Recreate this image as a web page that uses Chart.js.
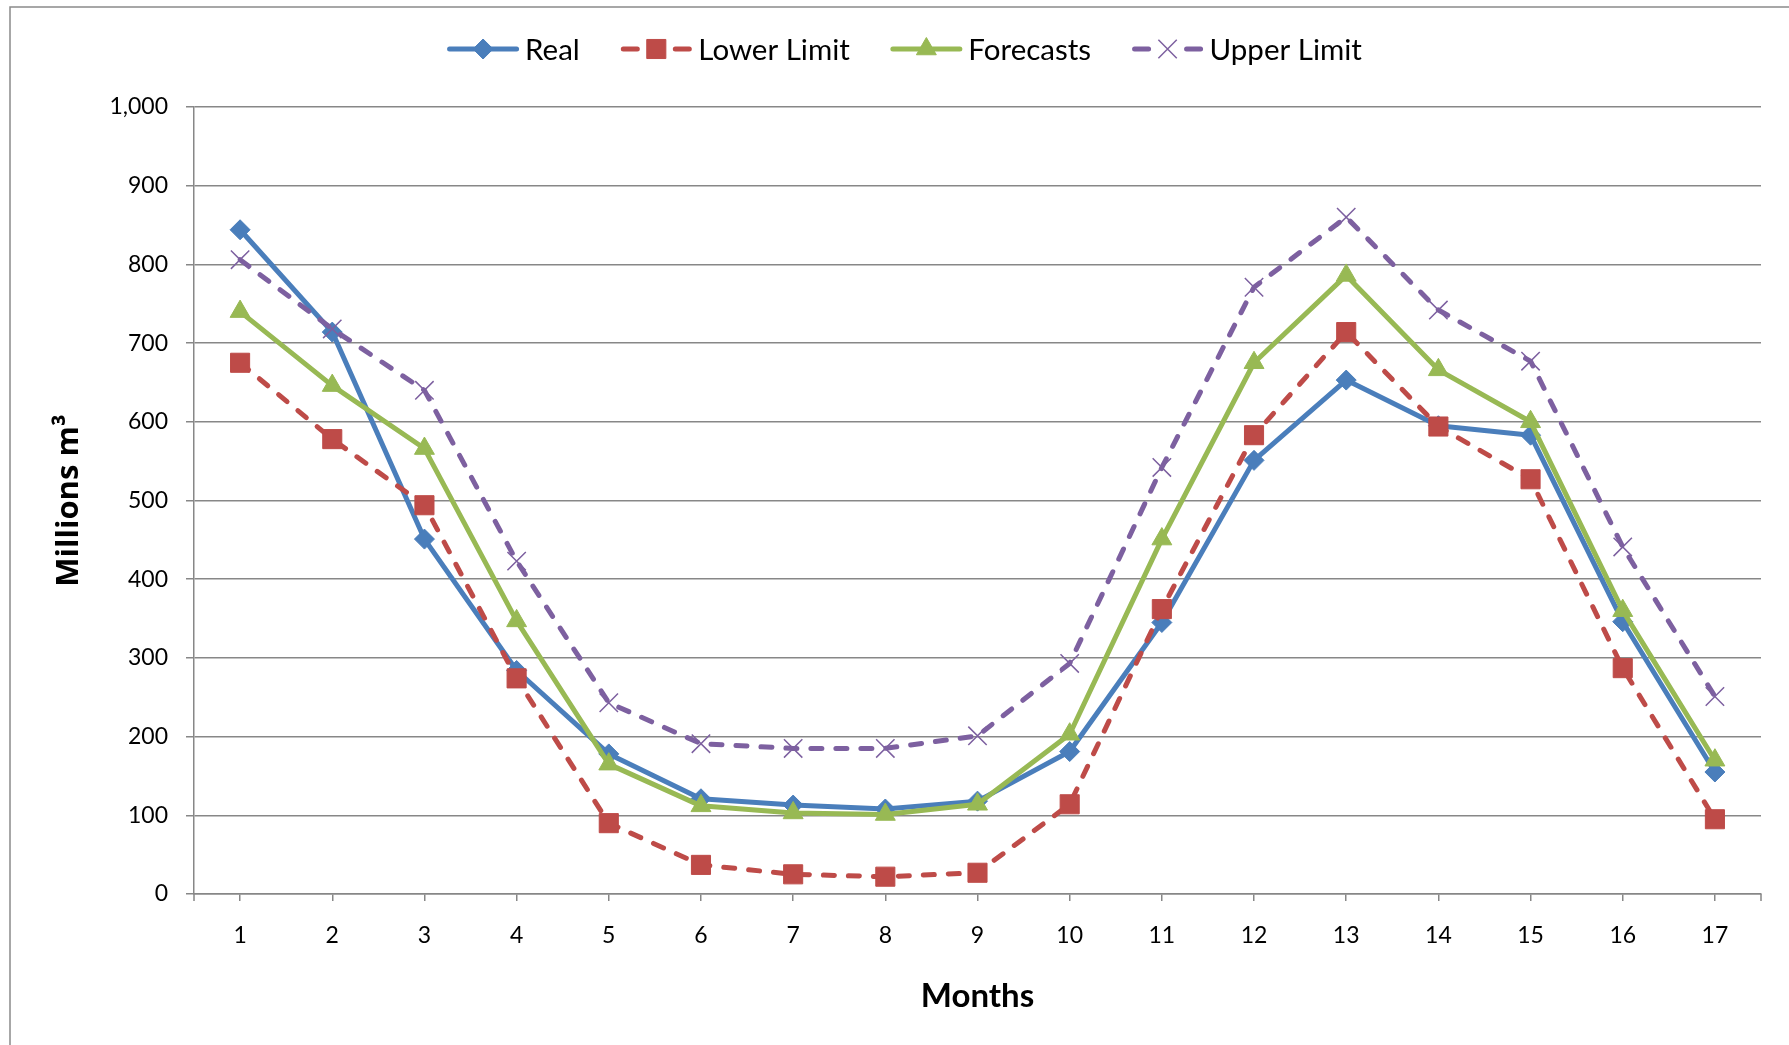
<!DOCTYPE html>
<html>
<head>
<meta charset="utf-8">
<script src="https://cdn.jsdelivr.net/npm/chart.js@4.4.1/dist/chart.umd.min.js"></script>
<style>
  html, body { margin: 0; padding: 0; background: #ffffff; }
  canvas { display: block; }
</style>
</head>
<body>
<canvas id="chart" width="1789" height="1045"></canvas>
<script>
// Monthly volumes, millions of cubic metres
const months = ['1', '2', '3', '4', '5', '6', '7', '8', '9', '10', '11', '12', '13', '14', '15', '16', '17'];
const real        = [844, 714, 451, 284, 178, 121, 113, 108, 118, 181, 345, 551, 653, 595, 583, 346, 155];
const lowerLimit  = [675, 578, 494, 274,  90,  37,  25,  22,  27, 114, 362, 583, 714, 594, 527, 287,  95];
const forecasts   = [740, 646, 566, 347, 165, 112, 103, 101, 114, 203, 451, 675, 786, 666, 600, 360, 170];
const upperLimit  = [806, 718, 640, 423, 243, 191, 185, 185, 201, 293, 542, 771, 860, 742, 677, 441, 251];
const yMin = 0, yMax = 1000, yStep = 100;

const gridColor = '#878787';
const tickFont = { family: 'Lato', size: 23 };

// Outer chart frame plus the end tick marks of the category axis
const framePlugin = {
  id: 'frame',
  beforeDraw(chart) {
    const ctx = chart.ctx;
    ctx.save();
    ctx.fillStyle = '#ffffff';
    ctx.fillRect(0, 0, chart.width, chart.height);
    ctx.strokeStyle = '#8a8a8a';
    ctx.lineWidth = 1.5;
    ctx.strokeRect(10, 7, chart.width + 20, chart.height + 20);
    ctx.restore();
  },
  afterDraw(chart) {
    const ctx = chart.ctx;
    const a = chart.chartArea;
    ctx.save();
    ctx.strokeStyle = gridColor;
    ctx.lineWidth = 1.5;
    ctx.beginPath();
    [a.left, a.right].forEach(x => {
      ctx.moveTo(x, a.bottom);
      ctx.lineTo(x, a.bottom + 7);
    });
    ctx.stroke();
    ctx.restore();
  }
};

// Legend row: line sample with its marker, followed by the series name
const lineLegendPlugin = {
  id: 'lineLegend',
  afterDraw(chart, args, opts) {
    const ctx = chart.ctx;
    const sets = chart.data.datasets;
    ctx.save();
    ctx.font = `${opts.fontSize}px ${opts.fontFamily}`;
    const widths = sets.map(ds => ctx.measureText(ds.label).width);
    const textGap = 42, itemGap = 76.5, half = 36;
    // block runs from the first line start to the last text end
    let total = half;
    widths.forEach((w, i) => { total += textGap + w + (i < widths.length - 1 ? itemGap : 0); });
    let c = opts.centerX - total / 2 + half;
    const y = opts.y;
    sets.forEach((ds, i) => {
      ctx.save();
      ctx.strokeStyle = ds.borderColor;
      ctx.lineWidth = ds.borderWidth;
      ctx.lineCap = 'round';
      ctx.beginPath();
      if (ds.borderDash && ds.borderDash.length) {
        ctx.moveTo(c - 33, y); ctx.lineTo(c - 19, y);
        ctx.moveTo(c + 19, y); ctx.lineTo(c + 33, y);
      } else {
        ctx.moveTo(c - half + 2.5, y); ctx.lineTo(c + half - 2.5, y);
      }
      ctx.stroke();
      ctx.restore();
      ctx.save();
      ctx.fillStyle = ds.pointBackgroundColor;
      ctx.strokeStyle = ds.pointBorderColor;
      ctx.lineWidth = ds.pointBorderWidth;
      Chart.helpers.drawPoint(ctx, {
        pointStyle: ds.pointStyle,
        radius: ds.pointRadius,
        borderWidth: ds.pointBorderWidth,
        rotation: 0
      }, c, y);
      ctx.restore();
      ctx.fillStyle = '#000000';
      ctx.textBaseline = 'alphabetic';
      ctx.textAlign = 'left';
      ctx.fillText(ds.label, c + textGap, y + 10.5);
      c += textGap + widths[i] + itemGap;
    });
    ctx.restore();
  }
};

const datasets = [
  {
    label: 'Real', data: real,
    borderColor: '#4A7EBB', backgroundColor: '#4A7EBB', borderWidth: 5,
    pointStyle: 'rectRot', pointRadius: 10,
    pointBackgroundColor: '#4A7EBB', pointBorderColor: '#4A7EBB', pointBorderWidth: 1,
    order: 4
  },
  {
    label: 'Lower Limit', data: lowerLimit,
    borderColor: '#BE4B48', backgroundColor: '#BE4B48', borderWidth: 5,
    borderDash: [11, 14], borderCapStyle: 'round',
    pointStyle: 'rect', pointRadius: 13.5,
    pointBackgroundColor: '#BE4B48', pointBorderColor: '#BE4B48', pointBorderWidth: 1,
    order: 3
  },
  {
    label: 'Forecasts', data: forecasts,
    borderColor: '#98B954', backgroundColor: '#98B954', borderWidth: 5,
    pointStyle: 'triangle', pointRadius: 11.5,
    pointBackgroundColor: '#98B954', pointBorderColor: '#98B954', pointBorderWidth: 1,
    order: 2
  },
  {
    label: 'Upper Limit', data: upperLimit,
    borderColor: '#7D60A0', backgroundColor: '#7D60A0', borderWidth: 5,
    borderDash: [11, 14], borderCapStyle: 'round',
    pointStyle: 'crossRot', pointRadius: 13,
    pointBackgroundColor: '#7D60A0', pointBorderColor: '#7D60A0', pointBorderWidth: 1.5,
    order: 1
  }
];

new Chart(document.getElementById('chart'), {
  type: 'line',
  data: { labels: months, datasets },
  options: {
    responsive: false,
    animation: false,
    devicePixelRatio: 1,
    layout: { padding: { top: 107, right: 28, bottom: 0, left: 0 } },
    elements: { line: { tension: 0, borderJoinStyle: 'round' } },
    plugins: {
      legend: { display: false },
      tooltip: { enabled: false },
      lineLegend: { centerX: 904.5, y: 49, fontSize: 29.5, fontFamily: 'Lato' }
    },
    scales: {
      x: {
        type: 'category',
        offset: true,
        grid: { display: true, drawOnChartArea: false, drawTicks: true, tickLength: 7, color: gridColor, lineWidth: 1.5 },
        border: { display: true, color: gridColor, width: 1.5 },
        ticks: { font: tickFont, color: '#000000', padding: 21, maxRotation: 0, autoSkip: false },
        title: {
          display: true, text: 'Months', color: '#000000',
          font: { family: 'Lato', size: 33, weight: 'bold' },
          padding: { top: 0, bottom: 29 }
        },
        afterFit(scale) { scale.height = 151; }
      },
      y: {
        min: yMin, max: yMax,
        grid: { color: gridColor, lineWidth: 1.5, drawTicks: true, tickLength: 8 },
        border: { display: true, color: gridColor, width: 1.5 },
        ticks: { stepSize: yStep, font: tickFont, color: '#000000', padding: 18 },
        title: {
          display: true, text: 'Millions m³', color: '#000000',
          font: { family: 'Open Sans', size: 31, weight: 'bold' },
          padding: { top: 51, bottom: 0 }
        },
        afterFit(scale) { scale.width = 194; }
      }
    }
  },
  plugins: [framePlugin, lineLegendPlugin]
});
</script>
</body>
</html>
